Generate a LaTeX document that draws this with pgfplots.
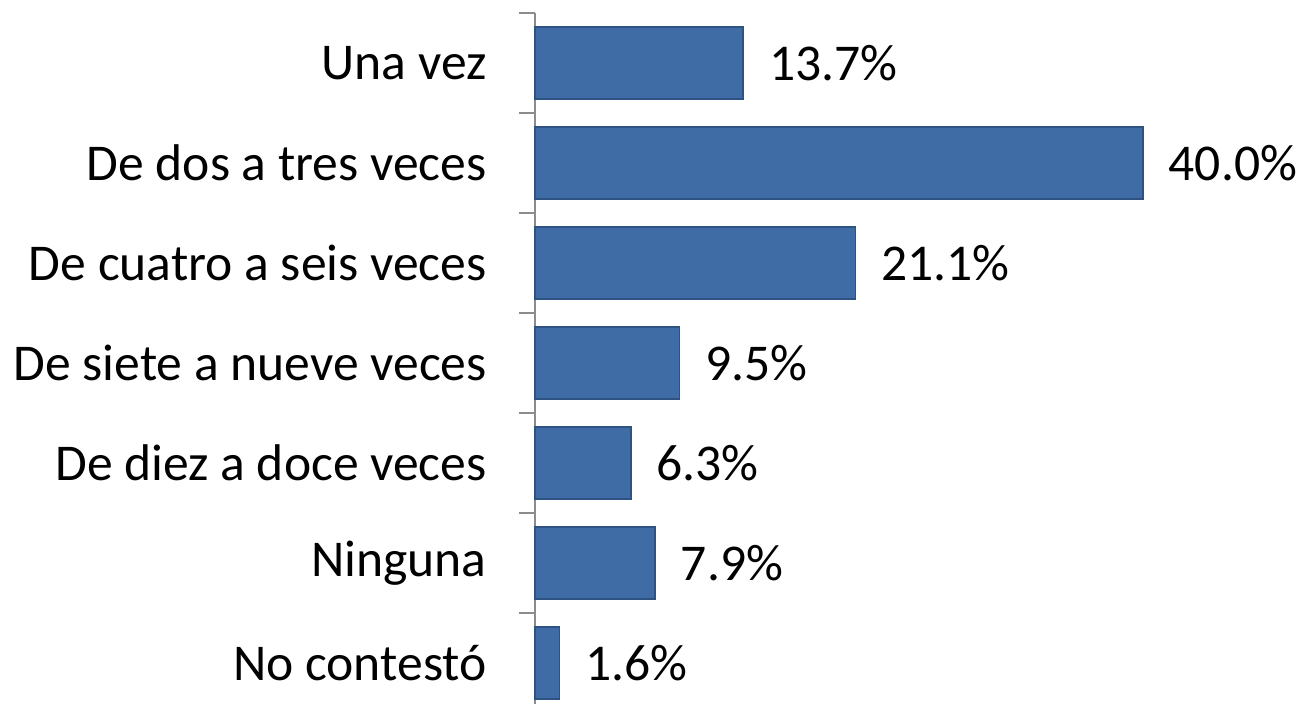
\documentclass[border=0pt]{standalone}
\usepackage{pgfplots}
\pgfplotsset{compat=1.18}
\usepackage{fontspec}
\setmainfont{Carlito}
\usetikzlibrary{calc}
\definecolor{barblue}{HTML}{3F6CA4}
\definecolor{baredge}{HTML}{2E5281}
\definecolor{axgray}{HTML}{8C8C8C}
\begin{document}
\begin{tikzpicture}
\begin{axis}[
  scale only axis,
  width=383pt, height=350pt,
  xbar, bar width=36pt,
  xmin=0, xmax=50.4,
  ymin=-0.5, ymax=6.5,
  y dir=reverse,
  axis x line=none,
  axis y line*=left,
  y axis line style={axgray, line width=0.8pt},
  ytick={0,1,2,3,4,5,6},
  yticklabels={Una vez, De dos a tres veces, De cuatro a seis veces, De siete a nueve veces, De diez a doce veces, Ninguna, No contestó},
  major tick length=0pt,
  extra y ticks={-0.5,0.5,1.5,2.5,3.5,4.5,5.5,6.5},
  extra y tick labels={},
  extra y tick style={major tick length=8pt, tick align=outside, tick style={axgray, line width=0.8pt}},
  yticklabel style={font=\fontsize{25.8}{30}\selectfont, inner sep=0pt, xshift=-24pt},
  /pgf/number format/assume math mode=true,
  nodes near coords={\pgfmathprintnumber[fixed,fixed zerofill,precision=1]{\pgfplotspointmeta}\%},
  nodes near coords style={font=\fontsize{25.8}{30}\selectfont, anchor=west, inner sep=0pt, xshift=12.5pt, black},
  clip=false,
]
\addplot[fill=barblue, draw=baredge, line width=0.8pt] coordinates {
  (13.7,0) (40.0,1) (21.1,2) (9.5,3) (6.3,4) (7.9,5) (1.6,6)
};
\end{axis}
\pgfresetboundingbox
\path[use as bounding box] ($(current axis.north west)+(-267.5pt,6.5pt)$) rectangle ($(current axis.north west)+(383pt,-345pt)$);
\end{tikzpicture}
\end{document}
